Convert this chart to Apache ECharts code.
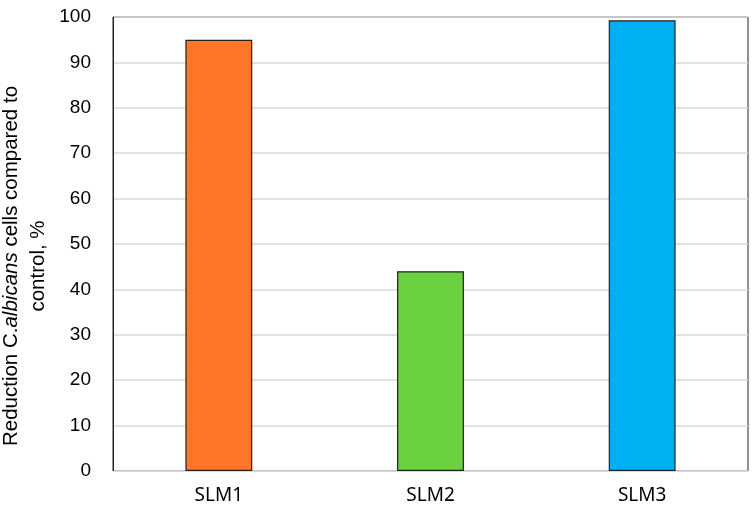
<!DOCTYPE html>
<html><head><meta charset="utf-8">
<script src="https://cdn.jsdelivr.net/npm/echarts@6/dist/echarts.min.js"></script>
<style>html,body{margin:0;padding:0;background:#fff}#c{width:755px;height:518px}</style>
</head><body><div id="c"></div>
<script>
const categories = ['SLM1', 'SLM2', 'SLM3'];
const values = [95, 44, 99.3];
const colors = ['#FF7629', '#6CD140', '#00B0F0'];
const yTicks = [0, 10, 20, 30, 40, 50, 60, 70, 80, 90, 100];

const chart = echarts.init(document.getElementById('c'));
chart.setOption({
  animation: false,
  grid: { left: 113, right: 7, top: 17, bottom: 47, containLabel: false, outerBoundsMode: 'none',
    show: true, borderColor: '#222', borderWidth: 1 },
  xAxis: {
    type: 'category', data: categories,
    axisLine: { lineStyle: { color: '#d9d9d9', width: 1 } },
    axisTick: { show: false },
    axisLabel: { color: '#000', fontSize: 19, fontFamily: 'Noto Sans', margin: 15 }
  },
  yAxis: {
    type: 'value', min: 0, max: 100, interval: 10,
    axisLine: { show: true, lineStyle: { color: '#222' } },
    axisTick: { show: false },
    splitLine: { lineStyle: { color: '#d9d9d9', width: 1.5 } },
    axisLabel: { color: '#000', fontSize: 19, fontFamily: 'Liberation Sans', margin: 22,
      formatter: v => yTicks.includes(v) ? String(v) : '' },
    name: '{a|Reduction C.}{b|albicans}{a| cells compared to}\n{a|control, %}',
    nameLocation: 'middle', nameRotate: 90, nameGap: 56,
    nameTextStyle: {
      padding: [0, 44, 0, 0],
      rich: {
        a: { fontSize: 20.5, fontFamily: 'Liberation Sans', color: '#000', lineHeight: 27 },
        b: { fontSize: 20.5, fontFamily: 'Liberation Sans', fontStyle: 'italic', color: '#000', lineHeight: 27 }
      },
      align: 'center'
    }
  },
  series: [{
    type: 'bar', barWidth: '31.6%',
    data: values.map((v, i) => ({ value: v, itemStyle: { color: colors[i] } })),
    itemStyle: { borderColor: '#222', borderWidth: 1.2 }
  }]
});
</script></body></html>
